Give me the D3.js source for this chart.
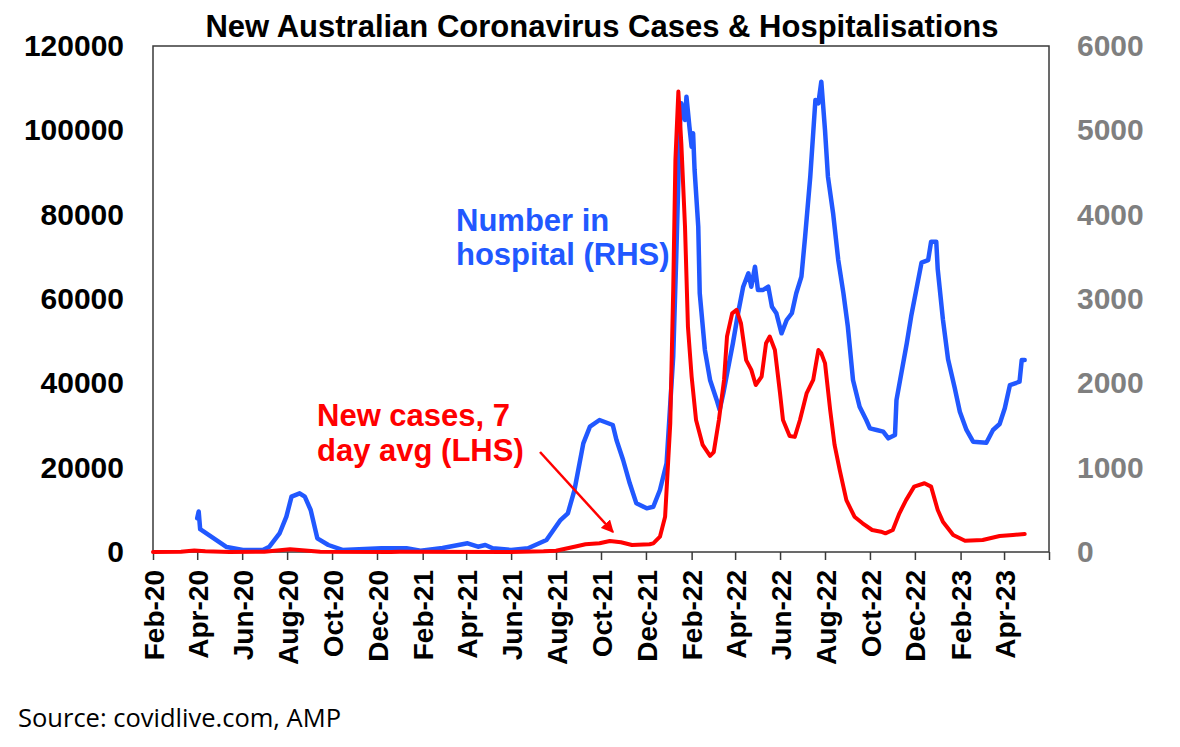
<!DOCTYPE html>
<html>
<head>
<meta charset="utf-8">
<script src="https://cdn.jsdelivr.net/npm/d3@7"></script>
<style>
  body { margin: 0; background: #fff; }
  svg text { font-family: "Liberation Sans", Arial, sans-serif; }
</style>
</head>
<body>
<div id="chart"></div>
<script>
// number in hospital (RHS)
const hospDates = [
  "2020-04-01","2020-04-03","2020-04-05","2020-04-27","2020-05-11","2020-06-02","2020-06-29","2020-07-08",
  "2020-07-22","2020-07-31","2020-08-07","2020-08-18","2020-08-25","2020-09-02","2020-09-11","2020-09-26",
  "2020-10-15","2020-12-07","2021-01-10","2021-01-29","2021-02-28","2021-04-03","2021-04-17","2021-04-27",
  "2021-05-07","2021-06-01","2021-06-24","2021-07-19","2021-08-07","2021-08-17","2021-08-26","2021-09-07",
  "2021-09-16","2021-09-29","2021-10-17","2021-10-22","2021-10-31","2021-11-09","2021-11-18","2021-12-02",
  "2021-12-11","2021-12-20","2021-12-29","2022-01-07","2022-01-11","2022-01-16","2022-01-18","2022-01-23",
  "2022-01-25","2022-01-29","2022-02-01","2022-02-03","2022-02-05","2022-02-10","2022-02-12","2022-02-19",
  "2022-02-26","2022-03-07","2022-03-11","2022-03-16","2022-03-22","2022-03-29","2022-04-05","2022-04-12",
  "2022-04-19","2022-04-23","2022-04-28","2022-05-02","2022-05-09","2022-05-16","2022-05-21","2022-05-27",
  "2022-06-03","2022-06-10","2022-06-17","2022-06-23","2022-06-30","2022-07-05","2022-07-12","2022-07-19",
  "2022-07-23","2022-07-27","2022-08-01","2022-08-05","2022-08-12","2022-08-19","2022-08-26","2022-09-01",
  "2022-09-08","2022-09-17","2022-09-26","2022-10-01","2022-10-10","2022-10-19","2022-10-26","2022-11-04",
  "2022-11-06","2022-11-13","2022-11-20","2022-11-26","2022-12-03","2022-12-10","2022-12-19","2022-12-23",
  "2022-12-30","2023-01-01","2023-01-08","2023-01-15","2023-01-24","2023-01-31","2023-02-09","2023-02-18",
  "2023-03-08","2023-03-17","2023-03-26","2023-04-02","2023-04-09","2023-04-22","2023-04-25","2023-04-29"
]
const hospValues = [
  400, 480, 270, 142, 59, 24, 24, 63,
  225, 419, 656, 696, 656, 498, 162, 83,
  24, 44, 44, 15, 47, 103, 63, 83,
  44, 24, 44, 142, 379, 459, 735, 1289,
  1486, 1565, 1506, 1328, 1091, 815, 577, 518,
  537, 735, 1052, 2316, 3462, 5043, 5320, 5123,
  5399, 5043, 4806, 4965, 4530, 3857, 3068, 2395,
  2040, 1803, 1684, 1882, 2158, 2475, 2831, 3146,
  3305, 3146, 3383, 3107, 3107, 3146, 2909, 2831,
  2593, 2751, 2831, 3068, 3265, 3739, 4450, 5360,
  5320, 5577, 5004, 4450, 4016, 3462, 3068, 2672,
  2040, 1723, 1565, 1466, 1447, 1427, 1348, 1387,
  1802, 2138, 2475, 2798, 3115, 3431, 3462, 3680,
  3680, 3352, 2759, 2285, 1948, 1664, 1447, 1308,
  1296, 1447, 1518, 1704, 1980, 2019, 2277, 2277
]

// new cases, 7 day avg (LHS)
const caseDates = [
  "2020-02-01","2020-03-10","2020-03-28","2020-04-12","2020-05-15","2020-07-01","2020-08-05","2020-09-15",
  "2020-12-20","2021-01-01","2021-06-01","2021-07-15","2021-08-01","2021-08-26","2021-09-10","2021-09-29",
  "2021-10-13","2021-10-28","2021-11-12","2021-12-06","2021-12-11","2021-12-20","2021-12-27","2022-01-03",
  "2022-01-07","2022-01-10","2022-01-14","2022-01-18","2022-01-23","2022-01-27","2022-02-01","2022-02-07",
  "2022-02-16","2022-02-26","2022-03-03","2022-03-10","2022-03-17","2022-03-21","2022-03-28","2022-04-03",
  "2022-04-09","2022-04-16","2022-04-23","2022-04-29","2022-05-07","2022-05-13","2022-05-18","2022-05-25",
  "2022-06-01","2022-06-05","2022-06-14","2022-06-21","2022-06-28","2022-07-07","2022-07-16","2022-07-23",
  "2022-07-27","2022-08-01","2022-08-08","2022-08-14","2022-08-21","2022-08-30","2022-09-10","2022-09-21",
  "2022-10-04","2022-10-16","2022-10-22","2022-11-01","2022-11-10","2022-11-19","2022-11-30","2022-12-14",
  "2022-12-23","2023-01-01","2023-01-08","2023-01-22","2023-02-07","2023-03-03","2023-03-26","2023-04-13",
  "2023-04-29"
]
const caseValues = [
  0, 60, 350, 200, 20, 50, 650, 50,
  20, 30, 10, 150, 300, 1250, 1830, 2060,
  2600, 2300, 1660, 1830, 2060, 3630, 8370, 30500,
  62100, 93000, 109200, 96900, 77200, 53400, 41600, 31300,
  25400, 22800, 23700, 31300, 40800, 51100, 56600, 57400,
  54200, 45500, 43200, 39600, 41600, 49500, 51100, 47900,
  37600, 31300, 27500, 27300, 31300, 37600, 40800, 47900,
  47100, 44800, 33700, 25400, 19400, 12300, 8370, 6810,
  5220, 4810, 4430, 5220, 9180, 12300, 15500, 16300,
  15500, 9960, 7190, 4030, 2680, 2850, 3790, 4030,
  4270
]

// axis tick values
const leftTicks = [0, 20000, 40000, 60000, 80000, 100000, 120000]
const rightTicks = [0, 1000, 2000, 3000, 4000, 5000, 6000]
const monthTicks = ["2020-02-01","2020-04-01","2020-06-01","2020-08-01","2020-10-01","2020-12-01",
  "2021-02-01","2021-04-01","2021-06-01","2021-08-01","2021-10-01","2021-12-01",
  "2022-02-01","2022-04-01","2022-06-01","2022-08-01","2022-10-01","2022-12-01",
  "2023-02-01","2023-04-01","2023-06-01"]

const width = 1180
const height = 747
const margin = { left: 153, right: 131, top: 46, bottom: 195 }
const innerW = width - margin.left - margin.right
const innerH = height - margin.top - margin.bottom

const blue = "#2158ff"
const red = "#ff0000"
const parse = d3.timeParse("%Y-%m-%d")

const hosp = hospDates.map((d, i) => ({ date: parse(d), value: hospValues[i] }))
const cases = caseDates.map((d, i) => ({ date: parse(d), value: caseValues[i] }))

//scales: time along the bottom, cases on the left, hospital on the right
const xScale = d3.scaleTime()
  .domain([parse("2020-02-01"), parse("2023-06-01")])
  .range([0, innerW])
const yLeft = d3.scaleLinear().domain([0, 120000]).range([innerH, 0])
const yRight = d3.scaleLinear().domain([0, 6000]).range([innerH, 0])

const svg = d3.select("div#chart").append("svg")
  .attr("width", width).attr("height", height)

svg.append("rect").attr("width", width).attr("height", height).attr("fill", "#fff")

const g = svg.append("g").attr("transform", "translate(" + margin.left + " " + margin.top + ")")

//the box round the plot area
g.append("rect")
  .attr("width", innerW).attr("height", innerH)
  .attr("fill", "none").attr("stroke", "#3a3a3a").attr("stroke-width", 1.5)

//x axis with rotated month labels
const lastTick = monthTicks[monthTicks.length - 1]
const xAxis = d3.axisBottom(xScale)
  .tickValues(monthTicks.map(parse))
  .tickSize(8)
  .tickFormat(d => d3.timeFormat("%Y-%m-%d")(d) === lastTick ? "" : d3.timeFormat("%b-%y")(d))
const gx = g.append("g")
  .attr("class", "axis-x")
  .attr("transform", "translate(0 " + innerH + ")")
  .call(xAxis)
gx.select(".domain").remove()
gx.selectAll("line").attr("stroke", "#3a3a3a").attr("stroke-width", 1.5)
gx.selectAll("text")
  .attr("transform", "rotate(-90)")
  .attr("text-anchor", "end")
  .attr("x", -18).attr("y", 0).attr("dy", "0.36em")
  .attr("font-size", "28px").attr("font-weight", "bold").attr("fill", "#000")

//left axis (cases), plain numbers with no commas
const gl = g.append("g").attr("class", "axis-y")
  .call(d3.axisLeft(yLeft).tickValues(leftTicks).tickFormat(d3.format("d")).tickSize(0).tickPadding(29))
gl.select(".domain").remove()
gl.selectAll("text")
  .attr("font-size", "30px").attr("font-weight", "bold").attr("fill", "#000")

//right axis (hospital)
const gr = g.append("g").attr("class", "axis-y2")
  .attr("transform", "translate(" + innerW + " 0)")
  .call(d3.axisRight(yRight).tickValues(rightTicks).tickFormat(d3.format("d")).tickSize(0).tickPadding(28))
gr.select(".domain").remove()
gr.selectAll("text")
  .attr("font-size", "30px").attr("font-weight", "bold").attr("fill", "#7f7f7f")

//the two lines
const hospLine = d3.line().x(d => xScale(d.date)).y(d => yRight(d.value))
const caseLine = d3.line().x(d => xScale(d.date)).y(d => yLeft(d.value))

g.append("path").datum(hosp)
  .attr("d", hospLine)
  .attr("fill", "none").attr("stroke", blue).attr("stroke-width", 4.5)
  .attr("stroke-linejoin", "round").attr("stroke-linecap", "round")

g.append("path").datum(cases)
  .attr("d", caseLine)
  .attr("fill", "none").attr("stroke", red).attr("stroke-width", 4)
  .attr("stroke-linejoin", "round").attr("stroke-linecap", "round")

//title
svg.append("text")
  .attr("x", 602).attr("y", 37)
  .attr("text-anchor", "middle")
  .attr("font-size", "31px").attr("font-weight", "bold")
  .text("New Australian Coronavirus Cases & Hospitalisations")

//labels for the lines
const blueLabel = svg.append("text")
  .attr("font-size", "31px").attr("font-weight", "bold").attr("fill", blue)
blueLabel.append("tspan").attr("x", 456).attr("y", 231).text("Number in")
blueLabel.append("tspan").attr("x", 456).attr("y", 265).text("hospital (RHS)")

const redLabel = svg.append("text")
  .attr("font-size", "31px").attr("font-weight", "bold").attr("fill", red)
redLabel.append("tspan").attr("x", 317).attr("y", 426).text("New cases, 7")
redLabel.append("tspan").attr("x", 317).attr("y", 461).text("day avg (LHS)")

//arrow pointing at the Oct-21 bump
svg.append("defs").append("marker")
  .attr("id", "head")
  .attr("viewBox", "0 0 10 10")
  .attr("refX", 9).attr("refY", 5)
  .attr("markerWidth", 5).attr("markerHeight", 5)
  .attr("orient", "auto")
  .append("path").attr("d", "M0,0 L10,5 L0,10 z").attr("fill", red)

svg.append("line")
  .attr("x1", 540).attr("y1", 452)
  .attr("x2", 613).attr("y2", 532)
  .attr("stroke", red).attr("stroke-width", 2.5)
  .attr("marker-end", "url(#head)")

//source note
svg.append("text")
  .attr("x", 18).attr("y", 727)
  .style("font-family", "'Open Sans', sans-serif")
  .attr("font-size", "25.5px").attr("fill", "#000")
  .text("Source: covidlive.com, AMP")
</script>
</body>
</html>
